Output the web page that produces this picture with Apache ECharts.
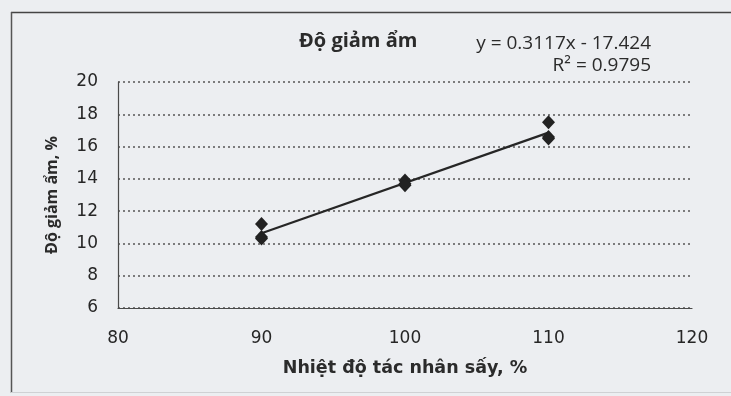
<!DOCTYPE html>
<html>
<head>
<meta charset="utf-8">
<script src="https://cdn.jsdelivr.net/npm/echarts@6/dist/echarts.min.js"></script>
<style>
  html, body { margin: 0; padding: 0; background: #eceef1; }
  #chart { width: 731px; height: 396px; }
</style>
</head>
<body>
<div id="chart"></div>
<script>
// Drying temperature levels (x) and replicate moisture-loss readings (y)
const temperatures = [90, 90, 90, 100, 100, 100, 110, 110, 110];
const moistureLoss = [11.2, 10.4, 10.3, 13.9, 13.7, 13.6, 17.5, 16.6, 16.5];

// Linear trendline as printed on the chart
const slope = 0.3117;
const intercept = -17.424;
const rSquared = 0.9795;
const trendRange = [90, 110];

const xTicks = [80, 90, 100, 110, 120];
const yTicks = [6, 8, 10, 12, 14, 16, 18, 20];

const titleText = 'Độ giảm ẩm';
const xName = 'Nhiệt độ tác nhân sấy, %';
const yName = 'Độ giảm ẩm, %';

const FONT = '"Open Sans", "Liberation Sans", sans-serif';
const WIDE = '"DejaVu Sans", "Open Sans", sans-serif';
const INK = '#2b2b2b';

const points = temperatures.map((t, i) => [t, moistureLoss[i]]);
const trend = trendRange.map(x => [x, slope * x + intercept]);
const eqText = 'y = ' + slope + 'x - ' + Math.abs(intercept);
const r2Text = 'R² = ' + rSquared;

const chart = echarts.init(document.getElementById('chart'), null, { renderer: 'canvas' });

chart.setOption({
  backgroundColor: '#eceef1',
  animation: false,
  grid: { left: 118, right: 39, top: 82, bottom: 88 },
  xAxis: {
    type: 'value',
    min: xTicks[0],
    max: xTicks[xTicks.length - 1],
    interval: 10,
    name: xName,
    nameLocation: 'middle',
    nameGap: 51,
    nameTextStyle: { fontFamily: WIDE, fontSize: 17.5, fontWeight: 'bold', color: INK },
    axisLine: { show: true, lineStyle: { color: '#4a4a4a', width: 1.2 } },
    axisTick: { show: false },
    splitLine: { show: false },
    axisLabel: { margin: 22, fontFamily: WIDE, fontSize: 17, color: '#262626' }
  },
  yAxis: {
    type: 'value',
    min: yTicks[0],
    max: yTicks[yTicks.length - 1],
    interval: 2,
    name: yName,
    nameLocation: 'middle',
    nameGap: 58,
    nameRotate: 90,
    nameTextStyle: { fontFamily: FONT, fontSize: 16, fontWeight: 'bold', color: INK },
    axisLine: { show: true, lineStyle: { color: '#4a4a4a', width: 1.2 } },
    axisTick: { show: false },
    splitLine: { show: true, lineStyle: { color: '#555', width: 1.5, type: [2, 3] } },
    axisLabel: { margin: 20, fontFamily: WIDE, fontSize: 17, color: '#262626' }
  },
  series: [
    {
      type: 'line',
      data: trend,
      symbol: 'none',
      lineStyle: { color: '#262626', width: 2.2 },
      z: 2
    },
    {
      type: 'scatter',
      data: points,
      symbol: 'diamond',
      symbolSize: [13, 14],
      itemStyle: { color: '#222', opacity: 1 },
      z: 3
    }
  ],
  graphic: [
    // chart frame
    { type: 'line', shape: { x1: 11, y1: 12.5, x2: 731, y2: 12.5 }, style: { stroke: '#444', lineWidth: 1.5 } },
    { type: 'line', shape: { x1: 11.5, y1: 12, x2: 11.5, y2: 393 }, style: { stroke: '#555', lineWidth: 1.5 } },
    { type: 'line', shape: { x1: 11, y1: 392.5, x2: 731, y2: 392.5 }, style: { stroke: '#cfd1d4', lineWidth: 1 } },
    {
      type: 'text', left: 299, top: 31,
      style: { text: titleText, fontFamily: FONT, fontSize: 20, fontWeight: 'bold', fill: INK }
    },
    {
      type: 'text', x: 651, y: 34,
      style: { text: eqText, textAlign: 'right', fontFamily: FONT, fontSize: 19, fill: INK }
    },
    {
      type: 'text', x: 651, y: 56,
      style: { text: r2Text, textAlign: 'right', fontFamily: FONT, fontSize: 19, fill: INK }
    }
  ]
});
</script>
</body>
</html>
